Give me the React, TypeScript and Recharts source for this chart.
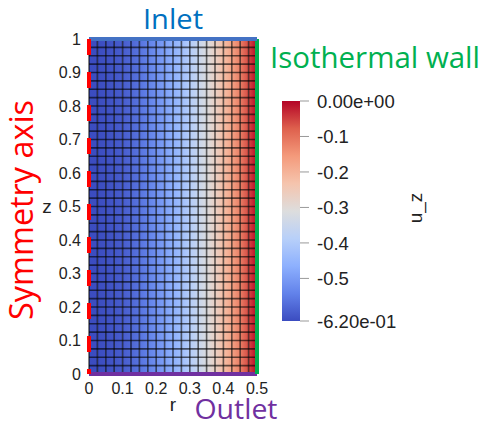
import React from "react";
import {
  ComposedChart,
  XAxis,
  YAxis,
  ReferenceArea,
  ReferenceLine,
} from "recharts";

// mesh nodes of the 20 x 40 grid
const rNodes = [
  0, 0.025, 0.05, 0.075, 0.1, 0.125, 0.15, 0.175, 0.2, 0.225, 0.25, 0.275,
  0.3, 0.325, 0.35, 0.375, 0.4, 0.425, 0.45, 0.475, 0.5,
];
const zNodes = [
  0, 0.025, 0.05, 0.075, 0.1, 0.125, 0.15, 0.175, 0.2, 0.225, 0.25, 0.275,
  0.3, 0.325, 0.35, 0.375, 0.4, 0.425, 0.45, 0.475, 0.5, 0.525, 0.55, 0.575,
  0.6, 0.625, 0.65, 0.675, 0.7, 0.725, 0.75, 0.775, 0.8, 0.825, 0.85, 0.875,
  0.9, 0.925, 0.95, 0.975, 1,
];
// u_z read at each r node (field does not change along z)
const uzNodes = [
  -0.62, -0.618, -0.614, -0.606, -0.595, -0.581, -0.564, -0.544, -0.521,
  -0.494, -0.465, -0.432, -0.397, -0.358, -0.316, -0.271, -0.223, -0.172,
  -0.118, -0.06, 0,
];

const rTicks = [0, 0.1, 0.2, 0.3, 0.4, 0.5];
const zTicks = [0, 0.1, 0.2, 0.3, 0.4, 0.5, 0.6, 0.7, 0.8, 0.9, 1];
const barTicks = [0, -0.1, -0.2, -0.3, -0.4, -0.5, -0.62];
const uzMin = -0.62;
const uzMax = 0;

// paraview "Cool to Warm"
const coolWarm = [
  [59, 76, 192],
  [98, 130, 234],
  [141, 176, 254],
  [184, 208, 249],
  [221, 221, 221],
  [245, 196, 173],
  [244, 154, 123],
  [222, 96, 77],
  [180, 4, 38],
];

const colorAt = (t: number) => {
  const tt = Math.min(1, Math.max(0, t));
  const p = tt * (coolWarm.length - 1);
  const i = Math.min(coolWarm.length - 2, Math.floor(p));
  const f = p - i;
  const c = coolWarm[i].map((v, k) =>
    Math.round(v + (coolWarm[i + 1][k] - v) * f)
  );
  return `rgb(${c.join(",")})`;
};
const colorOf = (u: number) => colorAt((u - uzMin) / (uzMax - uzMin));

const tickFont = {
  fontSize: 16,
  fill: "#222",
  fontFamily: "Liberation Sans, Arial, sans-serif",
};

const fmtBar = (v: number) => {
  if (v === 0 || v === uzMin)
    return v.toExponential(2).replace(/e([+-])(\d)$/, "e$10$2");
  return String(v);
};

const gridLine = { stroke: "#000", strokeOpacity: 0.6, strokeWidth: 1.6 };

const Field = () => (
  <ComposedChart
    width={485}
    height={424}
    margin={{ top: 39, right: 228, bottom: 20, left: 49 }}
  >
    <defs>
      {rNodes.slice(0, -1).map((r, i) => (
        <linearGradient key={`g${i}`} id={`col${i}`} x1="0" y1="0" x2="1" y2="0">
          <stop offset="0%" stopColor={colorOf(uzNodes[i])} />
          <stop offset="100%" stopColor={colorOf(uzNodes[i + 1])} />
        </linearGradient>
      ))}
    </defs>
    <XAxis
      type="number"
      dataKey="r"
      domain={[0, 0.5]}
      ticks={rTicks}
      allowDataOverflow
      axisLine={false}
      tickLine={false}
      tickSize={0}
      tickMargin={9}
      height={30}
      tick={tickFont}
      interval={0}
    />
    <YAxis
      type="number"
      dataKey="z"
      domain={[0, 1]}
      ticks={zTicks}
      allowDataOverflow
      axisLine={false}
      tickLine={false}
      tickSize={0}
      tickMargin={8}
      width={40}
      tick={tickFont}
      interval={0}
    />
    {rNodes.slice(0, -1).map((r, i) => (
      <ReferenceArea
        key={`c${i}`}
        x1={r}
        x2={rNodes[i + 1]}
        y1={0}
        y2={1}
        fill={`url(#col${i})`}
        fillOpacity={1}
        stroke="none"
        ifOverflow="visible"
      />
    ))}
    {rNodes.map((r) => (
      <ReferenceLine key={`vr${r}`} x={r} {...gridLine} ifOverflow="visible" />
    ))}
    {zNodes.map((z) => (
      <ReferenceLine key={`hz${z}`} y={z} {...gridLine} ifOverflow="visible" />
    ))}
    {/* boundaries */}
    <ReferenceLine
      segment={[
        { x: 0, y: 0 },
        { x: 0.5, y: 0 },
      ]}
      stroke="#7030A0"
      strokeWidth={4}
      ifOverflow="visible"
    />
    <ReferenceLine
      segment={[
        { x: 0.5, y: 1 },
        { x: 0.5, y: 0 },
      ]}
      stroke="#00B050"
      strokeWidth={4}
      ifOverflow="visible"
    />
    <ReferenceLine
      segment={[
        { x: 0, y: 1 },
        { x: 0.5, y: 1 },
      ]}
      stroke="#4472C4"
      strokeWidth={4}
      ifOverflow="visible"
    />
    <ReferenceLine
      segment={[
        { x: 0, y: 1 },
        { x: 0, y: 0 },
      ]}
      stroke="#FF0000"
      strokeWidth={4}
      strokeDasharray="16 17"
      ifOverflow="visible"
    />
  </ComposedChart>
);

const ColorBar = () => (
  <ComposedChart
    width={485}
    height={424}
    margin={{ top: 101, right: 85, bottom: 103, left: 282 }}
  >
    <defs>
      <linearGradient id="barGrad" x1="0" y1="0" x2="0" y2="1">
        {coolWarm.map((c, i) => (
          <stop
            key={i}
            offset={`${(i / (coolWarm.length - 1)) * 100}%`}
            stopColor={`rgb(${coolWarm[coolWarm.length - 1 - i].join(",")})`}
          />
        ))}
      </linearGradient>
    </defs>
    <XAxis type="number" dataKey="x" domain={[0, 1]} allowDataOverflow hide />
    <YAxis
      type="number"
      dataKey="u"
      orientation="right"
      domain={[uzMin, uzMax]}
      ticks={barTicks}
      allowDataOverflow
      axisLine={false}
      tickLine={{ stroke: "#999" }}
      tickSize={9}
      tickMargin={8}
      width={100}
      interval={0}
      tickFormatter={fmtBar}
      tick={{ ...tickFont, fontSize: 18.5 }}
    />
    <ReferenceArea
      x1={0}
      x2={1}
      y1={uzMin}
      y2={uzMax}
      fill="url(#barGrad)"
      fillOpacity={1}
      stroke="none"
      ifOverflow="visible"
    />
  </ComposedChart>
);

const Annotations = () => (
  <svg
    width={485}
    height={424}
    style={{ position: "absolute", left: 0, top: 0, pointerEvents: "none" }}
  >
    <g fontFamily="Open Sans, Noto Sans, sans-serif">
      <text x={173} y={29} fontSize={28} fill="#0070C0" textAnchor="middle" textLength={60} lengthAdjust="spacingAndGlyphs">
        Inlet
      </text>
      <text x={270} y={68} fontSize={30} fill="#00B050" textLength={210} lengthAdjust="spacingAndGlyphs">
        Isothermal wall
      </text>
      <text x={236} y={419} fontSize={27} fill="#7030A0" textAnchor="middle" textLength={83} lengthAdjust="spacingAndGlyphs">
        Outlet
      </text>
      <text
        x={33}
        y={210}
        fontSize={33}
        fill="#FF0000"
        textAnchor="middle"
        transform="rotate(-90, 33, 210)"
        textLength={220}
        lengthAdjust="spacingAndGlyphs"
      >
        Symmetry axis
      </text>
    </g>
    <g fontFamily="Liberation Sans, Arial, sans-serif" fill="#222" fontSize={19}>
      <text x={47} y={213} textAnchor="middle">z</text>
      <text x={173} y={411} textAnchor="middle">r</text>
      <text x={422} y={208} textAnchor="middle" transform="rotate(-90, 422, 208)">
        u_z
      </text>
    </g>
  </svg>
);

export default function App() {
  return (
    <div style={{ position: "absolute", left: 0, top: 0, width: 485, height: 424, background: "#fff" }}>
      <div style={{ position: "absolute", left: 0, top: 0 }}>
        <Field />
      </div>
      <div style={{ position: "absolute", left: 0, top: 0 }}>
        <ColorBar />
      </div>
      <Annotations />
    </div>
  );
}
